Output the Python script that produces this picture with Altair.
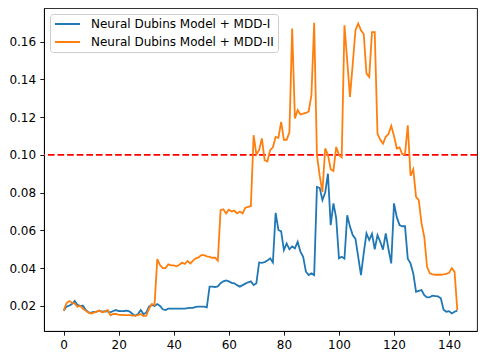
import altair as alt
import pandas as pd

x_vals = list(range(144))

mdd1 = [
    0.0175, 0.0196, 0.0201, 0.0210, 0.0226, 0.0205, 0.0200, 0.0201, 0.0178, 0.0166,
    0.0164, 0.0168, 0.0170, 0.0175, 0.0170, 0.0172, 0.0170, 0.0166, 0.0173, 0.0178,
    0.0173, 0.0172, 0.0173, 0.0175, 0.0170, 0.0157, 0.0148, 0.0157, 0.0178, 0.0157,
    0.0164, 0.0196, 0.0205, 0.0200, 0.0210, 0.0200, 0.0182, 0.0178, 0.0185, 0.0185,
    0.0185, 0.0186, 0.0186, 0.0185, 0.0185, 0.0188, 0.0190, 0.0190, 0.0195, 0.0196,
    0.0196, 0.0196, 0.0192, 0.0302, 0.0302, 0.0300, 0.0303, 0.0320, 0.0330, 0.0335,
    0.0330, 0.0322, 0.0320, 0.0310, 0.0302, 0.0310, 0.0318, 0.0325, 0.0330, 0.0310,
    0.0320, 0.0430, 0.0428, 0.0432, 0.0440, 0.0452, 0.0430, 0.0693, 0.0602, 0.0595,
    0.0496, 0.0531, 0.0500, 0.0515, 0.0505, 0.0540, 0.0487, 0.0460, 0.0381, 0.0363,
    0.0372, 0.0363, 0.0830, 0.0825, 0.0760, 0.0800, 0.0900, 0.0628, 0.0743, 0.0665,
    0.0452, 0.0460, 0.0450, 0.0680, 0.0620, 0.0575, 0.0555, 0.0460, 0.0363, 0.0480,
    0.0584, 0.0549, 0.0582, 0.0500, 0.0575, 0.0540, 0.0498, 0.0584, 0.0500, 0.0425,
    0.0743, 0.0670, 0.0628, 0.0622, 0.0622, 0.0450, 0.0425, 0.0372, 0.0275, 0.0280,
    0.0284, 0.0257, 0.0245, 0.0247, 0.0254, 0.0252, 0.0250, 0.0240, 0.0180, 0.0169,
    0.0172, 0.0160, 0.0169, 0.0175,
]

mdd2 = [
    0.0175, 0.0214, 0.0226, 0.0218, 0.0212, 0.0196, 0.0200, 0.0185, 0.0175, 0.0164,
    0.0160, 0.0164, 0.0170, 0.0175, 0.0166, 0.0170, 0.0178, 0.0150, 0.0157, 0.0157,
    0.0152, 0.0152, 0.0151, 0.0151, 0.0151, 0.0148, 0.0148, 0.0151, 0.0157, 0.0146,
    0.0148, 0.0185, 0.0210, 0.0205, 0.0448, 0.0416, 0.0400, 0.0400, 0.0420, 0.0415,
    0.0415, 0.0410, 0.0418, 0.0429, 0.0422, 0.0438, 0.0425, 0.0440, 0.0452, 0.0457,
    0.0469, 0.0469, 0.0462, 0.0460, 0.0455, 0.0455, 0.0440, 0.0707, 0.0712, 0.0690,
    0.0710, 0.0700, 0.0705, 0.0690, 0.0700, 0.0690, 0.0720, 0.0725, 0.0728, 0.1104,
    0.1002, 0.1025, 0.1087, 0.0972, 0.0965, 0.1025, 0.1040, 0.1095, 0.1090, 0.1175,
    0.1080, 0.1080, 0.1120, 0.1669, 0.1193, 0.1237, 0.1214, 0.1218, 0.1222, 0.1230,
    0.1316, 0.1700, 0.0998, 0.0890, 0.0804, 0.1034, 0.1000, 0.0924, 0.0915, 0.1042,
    0.1000, 0.0987, 0.1686, 0.1500, 0.1307, 0.1480, 0.1660, 0.1695, 0.1660, 0.1640,
    0.1430, 0.1413, 0.1650, 0.1650, 0.1113, 0.1080, 0.1060, 0.1096, 0.1110, 0.1154,
    0.1100, 0.1034, 0.1040, 0.1004, 0.1004, 0.1157, 0.0889, 0.0923, 0.0778, 0.0760,
    0.0637, 0.0566, 0.0407, 0.0373, 0.0367, 0.0365, 0.0365, 0.0365, 0.0367, 0.0370,
    0.0375, 0.0400, 0.0380, 0.0178,
]

series_names = ["Neural Dubins Model + MDD-I", "Neural Dubins Model + MDD-II"]
series_colors = ["#1f77b4", "#ff7f0e"]
threshold = [0.10]
x_ticks = [0, 20, 40, 60, 80, 100, 120, 140]
y_ticks = [0.02, 0.04, 0.06, 0.08, 0.10, 0.12, 0.14, 0.16]

df = pd.DataFrame({
    "x": x_vals + x_vals,
    "y": mdd1 + mdd2,
    "series": [series_names[0]] * len(mdd1) + [series_names[1]] * len(mdd2),
})
thr_df = pd.DataFrame({"y": threshold})

FONT = "DejaVu Sans"
FS = 12

x_scale = alt.Scale(domain=[-7.15, 150.15], nice=False, zero=False)
y_scale = alt.Scale(domain=[0.0067, 0.1778], nice=False, zero=False)

lines = alt.Chart(df).mark_line(strokeWidth=1.8, clip=True).encode(
    x=alt.X("x:Q", scale=x_scale,
            axis=alt.Axis(values=x_ticks, title=None, format="d")),
    y=alt.Y("y:Q", scale=y_scale,
            axis=alt.Axis(values=y_ticks, title=None, format=".2f")),
    color=alt.Color(
        "series:N",
        scale=alt.Scale(domain=series_names, range=series_colors),
        legend=alt.Legend(
            title=None,
            orient="none",
            legendX=6,
            legendY=6,
            symbolType="stroke",
            symbolSize=625,
            symbolStrokeWidth=1.8,
            clipHeight=12,
            rowPadding=6,
            padding=4,
            labelOffset=10,
            labelFont=FONT,
            labelFontSize=FS,
            labelColor="#000000",
            labelLimit=400,
            fillColor="white",
            strokeColor="#cccccc",
            cornerRadius=3,
        ),
    ),
)

rule = alt.Chart(thr_df).mark_rule(
    color="#ff0000", strokeWidth=1.8, strokeDash=[6.7, 2.9]
).encode(y=alt.Y("y:Q", scale=y_scale))

chart = alt.layer(rule, lines).properties(
    width=433,
    height=323,
    padding={"left": 36, "top": 0, "right": 1, "bottom": 22},
    autosize=alt.AutoSizeParams(type="none"),
).configure_view(
    stroke="#000000", strokeWidth=0.9
).configure_axis(
    grid=False,
    domainColor="#000000",
    domainWidth=0.9,
    tickColor="#000000",
    tickWidth=0.9,
    tickSize=4.2,
    labelFont=FONT,
    labelFontSize=FS,
    labelColor="#000000",
    labelPadding=4.2,
)

chart.save("out.html", embed_options={"renderer": "svg", "actions": False})
